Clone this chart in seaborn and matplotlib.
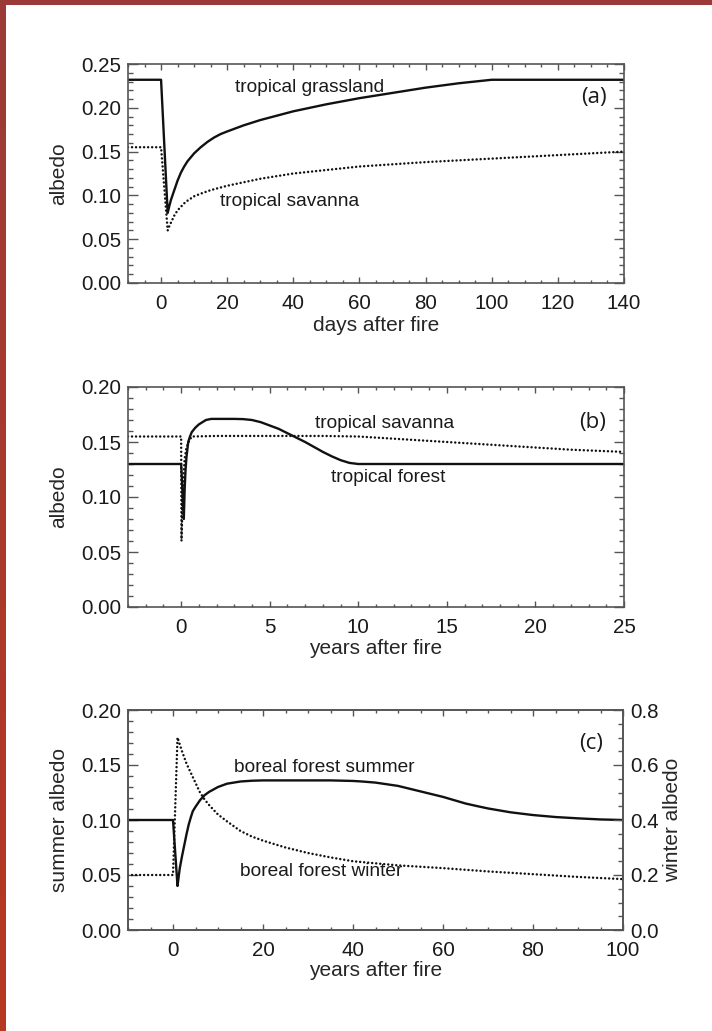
import numpy as np
import matplotlib.pyplot as plt
import seaborn as sns
from matplotlib.ticker import MultipleLocator

# (a) days after fire
grass_days = [-10, 0, 2, 2.5, 3, 4, 5, 6, 7, 8, 10, 12, 14, 16, 18, 20, 25, 30, 35, 40,
              50, 60, 70, 80, 90, 100, 140]
grass_albedo = [0.232, 0.232, 0.080, 0.088, 0.095, 0.106, 0.117, 0.126, 0.133, 0.139, 0.148,
                0.155, 0.161, 0.166, 0.170, 0.173, 0.180, 0.186, 0.191, 0.196, 0.204, 0.211,
                0.217, 0.223, 0.228, 0.232, 0.232]
sav_days = [-10, 0, 2, 2.5, 3, 4, 5, 6, 7, 8, 10, 12, 15, 20, 25, 30, 40, 50, 60, 70, 80,
            90, 100, 120, 140]
sav_albedo = [0.155, 0.155, 0.060, 0.065, 0.069, 0.077, 0.083, 0.087, 0.091, 0.094, 0.099,
              0.102, 0.106, 0.111, 0.115, 0.119, 0.125, 0.129, 0.133, 0.1355, 0.138, 0.140,
              0.142, 0.146, 0.150]

# (b) years after fire, tropical
forest_years = [-3, 0, 0.15, 0.2, 0.25, 0.3, 0.4, 0.5, 0.6, 0.8, 1.0, 1.2, 1.4, 1.7, 2, 3,
                3.5, 4, 4.5, 5, 5.5, 6, 6.5, 7, 7.5, 8, 8.5, 9, 9.5, 10, 25]
forest_albedo = [0.130, 0.130, 0.080, 0.108, 0.125, 0.136, 0.150, 0.155, 0.159, 0.163, 0.166,
                 0.168, 0.170, 0.171, 0.171, 0.171, 0.1708, 0.170, 0.168, 0.165, 0.162, 0.158,
                 0.154, 0.150, 0.1455, 0.141, 0.137, 0.1335, 0.131, 0.130, 0.130]
tsav_years = [-3, 0, 0.02, 0.1, 0.2, 0.3, 0.45, 0.6, 2, 5, 8, 10, 12, 15, 18, 20, 22, 25]
tsav_albedo = [0.155, 0.155, 0.060, 0.110, 0.135, 0.145, 0.151, 0.155, 0.1555, 0.1555, 0.1555,
               0.155, 0.153, 0.150, 0.147, 0.145, 0.143, 0.141]

# (c) years after fire, boreal
summer_years = [-10, 0, 1, 1.25, 1.5, 2, 2.6, 3, 3.5, 4, 4.4, 5, 6, 7, 8, 10, 12, 15, 17.5,
                20, 30, 35, 40, 42, 45, 47.5, 50, 52.5, 55, 57.5, 60, 62.5, 65, 67.5, 70, 75,
                80, 85, 90, 95, 100]
summer_albedo = [0.100, 0.100, 0.040, 0.048, 0.056, 0.067, 0.079, 0.087, 0.096, 0.103, 0.108,
                 0.112, 0.118, 0.1225, 0.1255, 0.130, 0.133, 0.135, 0.1357, 0.136, 0.136,
                 0.136, 0.1355, 0.135, 0.134, 0.1325, 0.131, 0.1285, 0.126, 0.1235, 0.121,
                 0.118, 0.115, 0.1127, 0.1105, 0.107, 0.1045, 0.1027, 0.1015, 0.1005, 0.100]
winter_years = [-10, 0, 1, 1.5, 2, 3, 4, 5, 6, 7, 8, 9, 10, 12, 15, 17.5, 20, 25, 30, 35,
                40, 50, 60, 70, 80, 90, 100]
winter_albedo = [0.20, 0.20, 0.70, 0.675, 0.65, 0.605, 0.57, 0.535, 0.50, 0.475, 0.455,
                 0.437, 0.42, 0.395, 0.36, 0.34, 0.325, 0.30, 0.28, 0.264, 0.25, 0.235,
                 0.225, 0.213, 0.203, 0.193, 0.185]

sns.set_theme(style="ticks")
plt.rcParams['font.family'] = ['Liberation Sans', 'DejaVu Sans']
plt.rcParams['font.size'] = 13.8
plt.rcParams['text.color'] = '#1a1a1a'

SPINE = '#555555'
LINE = '#111111'
DOT = dict(lw=1.8, linestyle=(0, (0.01, 1.6)), dash_capstyle='round')
TICK_FS = 14.8
LABEL_FS = 15

fig = plt.figure(figsize=(7.12, 10.31), dpi=100)

# red border strips
top_ax = fig.add_axes([0, 1 - 5 / 1031, 1, 5 / 1031])
top_ax.imshow([[[0.61, 0.23, 0.22]]], aspect='auto')
top_ax.axis('off')
left_ax = fig.add_axes([0, 0, 6 / 712, 1])
grad = np.linspace(0, 1, 100)[:, None, None]
left_ax.imshow((1 - grad) * np.array([0.61, 0.23, 0.22]) + grad * np.array([0.72, 0.22, 0.13]),
               aspect='auto')
left_ax.axis('off')


def style_axes(ax, xmaj, xmin, ymaj, ymin, right=True):
    for s in ax.spines.values():
        s.set_color(SPINE)
        s.set_linewidth(1.2)
    ax.xaxis.set_major_locator(MultipleLocator(xmaj))
    ax.xaxis.set_minor_locator(MultipleLocator(xmin))
    ax.yaxis.set_major_locator(MultipleLocator(ymaj))
    ax.yaxis.set_minor_locator(MultipleLocator(ymin))
    ax.tick_params(axis='x', which='both', direction='in', top=True, bottom=True,
                   color=SPINE, labelsize=TICK_FS, pad=8, labelcolor='#1a1a1a')
    ax.tick_params(axis='x', which='major', length=4.5, width=1)
    ax.tick_params(axis='x', which='minor', length=2.5, width=1)
    ax.tick_params(axis='y', which='both', direction='in', left=True, right=right,
                   color=SPINE, labelsize=TICK_FS, pad=5, labelcolor='#1a1a1a')
    ax.tick_params(axis='y', which='major', length=7, width=1)
    ax.tick_params(axis='y', which='minor', length=3.5, width=1)
    ax.grid(False)


L, W, H = 128 / 712, 496 / 712, 220 / 1031

# panel (a)
ax1 = fig.add_axes([L, 1 - 283 / 1031, W, 219 / 1031])
sns.lineplot(x=grass_days, y=grass_albedo, ax=ax1, color=LINE, lw=1.7, estimator=None, sort=False)
sns.lineplot(x=sav_days, y=sav_albedo, ax=ax1, color=LINE, estimator=None, sort=False, **DOT)
ax1.set_xlim(-10, 140)
ax1.set_ylim(0, 0.25)
style_axes(ax1, 20, 5, 0.05, 0.01)
ax1.yaxis.set_major_formatter(lambda v, p: f"{v:.2f}")
ax1.set_xlabel("days after fire", fontsize=LABEL_FS)
ax1.set_ylabel("albedo", fontsize=LABEL_FS)
ax1.xaxis.set_label_coords(0.5, -0.15)
ax1.yaxis.set_label_coords(-0.12, 0.5)
ax1.text(45, 0.223, "tropical grassland", ha='center', va='center')
ax1.text(39, 0.0925, "tropical savanna", ha='center', va='center')
ax1.text(131, 0.212, "(a)", ha='center', va='center', fontsize=16, family='Open Sans')

# panel (b)
ax2 = fig.add_axes([L, 1 - 607 / 1031, W, H])
sns.lineplot(x=forest_years, y=forest_albedo, ax=ax2, color=LINE, lw=1.7, estimator=None, sort=False)
sns.lineplot(x=tsav_years, y=tsav_albedo, ax=ax2, color=LINE, estimator=None, sort=False, **DOT)
ax2.set_xlim(-3, 25)
ax2.set_ylim(0, 0.20)
style_axes(ax2, 5, 1, 0.05, 0.01)
ax2.yaxis.set_major_formatter(lambda v, p: f"{v:.2f}")
ax2.set_xlabel("years after fire", fontsize=LABEL_FS)
ax2.set_ylabel("albedo", fontsize=LABEL_FS)
ax2.xaxis.set_label_coords(0.5, -0.145)
ax2.yaxis.set_label_coords(-0.12, 0.5)
ax2.text(11.5, 0.167, "tropical savanna", ha='center', va='center')
ax2.text(11.7, 0.118, "tropical forest", ha='center', va='center')
ax2.text(23.2, 0.168, "(b)", ha='center', va='center', fontsize=16, family='Open Sans')

# panel (c)
ax3 = fig.add_axes([L, 1 - 930 / 1031, 495 / 712, H])
sns.lineplot(x=summer_years, y=summer_albedo, ax=ax3, color=LINE, lw=1.7, estimator=None, sort=False)
ax3.set_xlim(-10, 100)
ax3.set_ylim(0, 0.20)
style_axes(ax3, 20, 5, 0.05, 0.01, right=False)
ax3.yaxis.set_major_formatter(lambda v, p: f"{v:.2f}")
ax3.set_xlabel("years after fire", fontsize=LABEL_FS)
ax3.set_ylabel("summer albedo", fontsize=LABEL_FS)
ax3.xaxis.set_label_coords(0.5, -0.141)
ax3.yaxis.set_label_coords(-0.12, 0.5)

ax4 = ax3.twinx()
sns.lineplot(x=winter_years, y=winter_albedo, ax=ax4, color=LINE, estimator=None, sort=False, **DOT)
ax4.set_ylim(0, 0.8)
ax4.set_xlim(-10, 100)
for s in ax4.spines.values():
    s.set_color(SPINE)
    s.set_linewidth(1.2)
ax4.yaxis.set_major_locator(MultipleLocator(0.2))
ax4.yaxis.set_minor_locator(MultipleLocator(0.05))
ax4.yaxis.set_major_formatter(lambda v, p: f"{v:.1f}")
ax4.tick_params(axis='y', which='both', direction='in', right=True, left=False,
                color=SPINE, labelsize=TICK_FS, pad=5, labelcolor='#1a1a1a')
ax4.tick_params(axis='y', which='major', length=7, width=1)
ax4.tick_params(axis='y', which='minor', length=3.5, width=1)
ax4.grid(False)
ax4.set_ylabel("winter albedo", fontsize=LABEL_FS)
ax4.yaxis.set_label_coords(1.08, 0.5)

ax3.text(33.7, 0.148, "boreal forest summer", ha='center', va='center')
ax3.text(33, 0.053, "boreal forest winter", ha='center', va='center')
ax3.text(93, 0.170, "(c)", ha='center', va='center', fontsize=16, family='Open Sans')

fig.savefig("out.png", dpi=100, facecolor='white')
